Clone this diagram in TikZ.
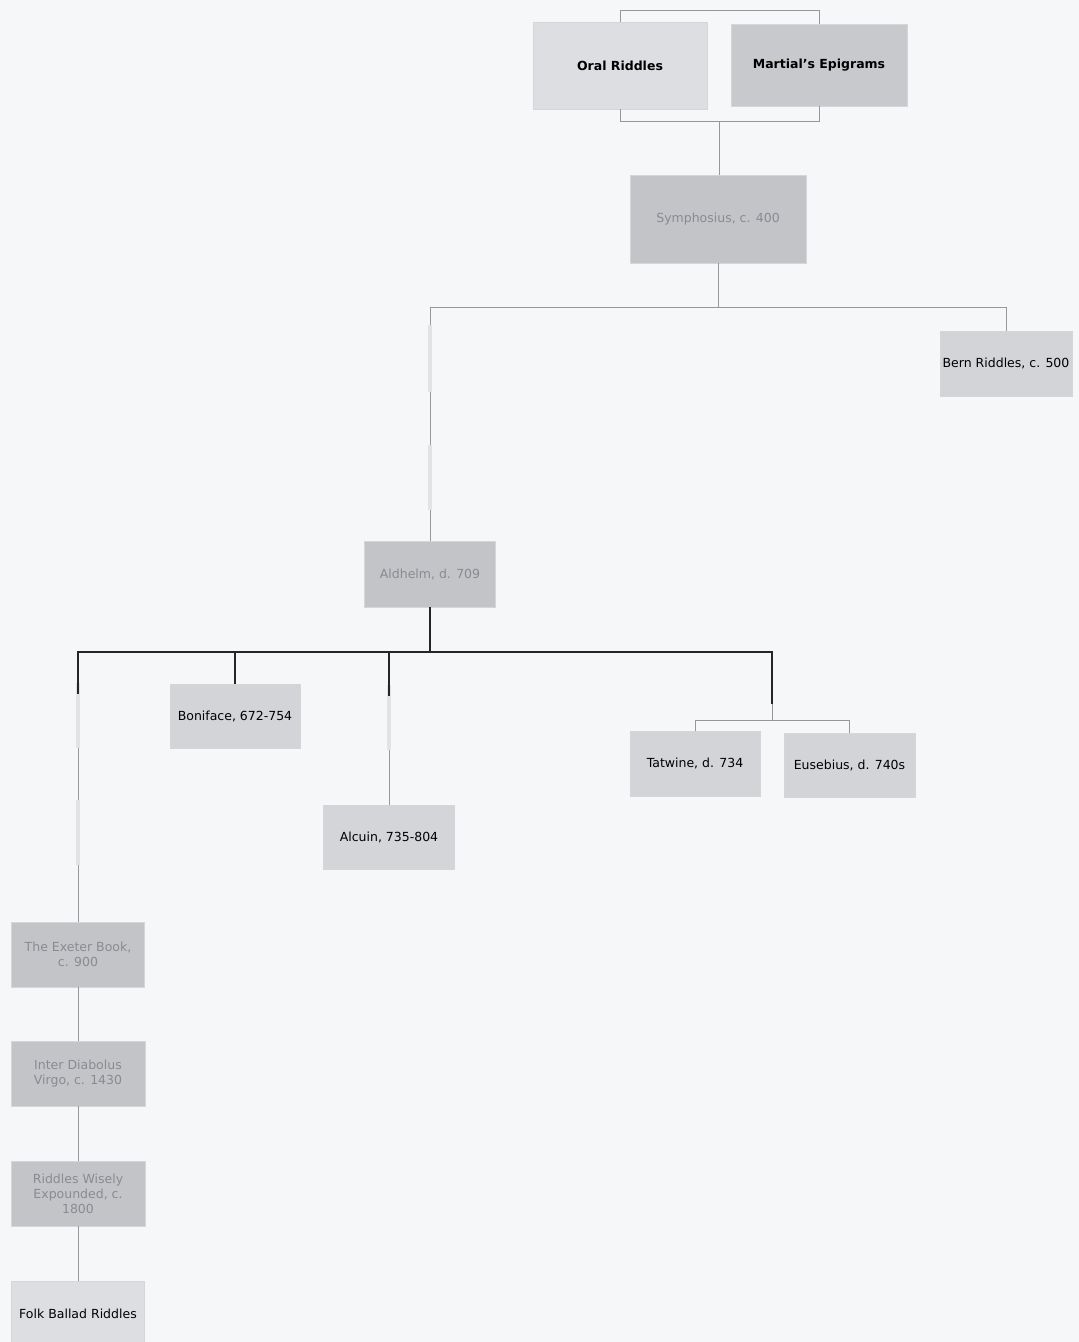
\documentclass[tikz,border=0pt]{standalone}
\usepackage{xcolor}
\usepackage{fontspec}
\setmainfont{DejaVu Sans}
\usepackage{tikz}
\usetikzlibrary{positioning,calc}
\definecolor{paper}{RGB}{246,247,249}
\definecolor{litegray}{RGB}{221,222,226}
\definecolor{midgray}{RGB}{211,212,216}
\definecolor{darkgray}{RGB}{195,196,200}
\definecolor{fadetext}{RGB}{138,139,145}
\definecolor{linegray}{RGB}{150,151,154}

\begin{document}
\begin{tikzpicture}[x=1pt, y=-1pt,
        box/.style={rectangle, draw=black!16, line width=0.4pt,
                    inner sep=2pt, align=center,
                    font=\fontsize{12.5}{15}\selectfont},
        lite/.style={box, fill=litegray},
        mid/.style={box, fill=midgray},
        dark/.style={box, fill=darkgray, text=fadetext},
        link/.style={draw=linegray, line width=0.8pt},
        heavy/.style={draw=black!85, line width=1.8pt},
        ghost/.style={draw=black!11, line width=3.5pt}]

        % page
        \fill[paper] (0,0) rectangle (1079,1342);
        \useasboundingbox (0,0) rectangle (1079,1342);

        % sources
        \node[lite, minimum width=174, minimum height=87, font=\fontsize{12.5}{15}\bfseries] (oral) at (620, 65.5)
            {Oral Riddles};
        \node[box, fill=darkgray!92, minimum width=176, minimum height=82, font=\fontsize{12.5}{15}\bfseries] (mart) at (819, 65)
            {Martial's Epigrams};

        % Symphosius and Bern
        \node[dark, minimum width=176, minimum height=88] (sym) at (718, 219)
            {Symphosius, c. 400};
        \node[mid, minimum width=132, minimum height=65] (bern) at (1006, 363.5)
            {Bern Riddles, c. 500};

        % Aldhelm and followers
        \node[dark, minimum width=131, minimum height=66] (ald) at (430, 574)
            {Aldhelm, d. 709};
        \node[mid, minimum width=130, minimum height=64] (bon) at (235, 716)
            {Boniface, 672-754};
        \node[lite, fill=midgray!85!litegray, minimum width=131, minimum height=64] (alc) at (389, 837)
            {Alcuin, 735-804};
        \node[mid, minimum width=130, minimum height=65] (tat) at (695, 763.5)
            {Tatwine, d. 734};
        \node[mid, minimum width=131, minimum height=64] (eus) at (849.5, 765)
            {Eusebius, d. 740s};

        % Old English line
        \node[dark, minimum width=133, minimum height=65] (ext) at (78, 954.5)
            {The Exeter Book,\\c. 900};
        \node[dark, minimum width=134, minimum height=65] (inter) at (78, 1073.5)
            {Inter Diabolus\\Virgo, c. 1430};
        \node[dark, minimum width=134, minimum height=65] (rwe) at (78, 1193.5)
            {Riddles Wisely\\Expounded, c.\\1800};
        \node[lite, minimum width=133, minimum height=65] (folk) at (78, 1313.5)
            {Folk Ballad Riddles};

        % brackets round the sources
        \draw[link] (oral.north) -- ++(0,-11) -| (mart.north);
        \draw[link] (oral.south) -- ++(0,12) coordinate (orb) -| (mart.south);
        \coordinate (topj) at ($(orb)!0.5!(orb -| mart.south)$);
        \draw[link] (topj) -- (topj |- sym.north);

        % Symphosius -> Aldhelm, Bern
        \draw[link] (sym.south) -- ++(0,44) coordinate (symj);
        \draw[link] (symj) -| (bern.north);
        \draw[link] (symj) -| (ald.north);
        \draw[ghost] ([yshift=-18]symj -| ald.north) -- ++(0,67);
        \draw[ghost] ([yshift=-138]symj -| ald.north) -- ++(0,65);

        % Aldhelm -> followers (thin lines first)
        \coordinate (tej) at ($($(tat.north)!0.5!(eus.north)$)+(0,-11)$);
        \draw[link] (ald.south) -- ++(0,45) coordinate (aldj);
        \draw[link] (aldj -| ext.north) -- (ext.north);
        \draw[link] (aldj -| alc.north) -- (alc.north);
        \draw[link] (aldj -| tej) -- (tej);
        \draw[link] (tej) -| (tat.north);
        \draw[link] (tej) -| (eus.north);

        % faint overlays
        \draw[ghost] ([yshift=-31]aldj -| ext.north) -- ++(0,65);
        \draw[ghost] ([yshift=-148]aldj -| ext.north) -- ++(0,65);
        \draw[ghost] ([yshift=-33]aldj -| alc.north) -- ++(0,65);

        % heavy bar
        \draw[heavy] (ald.south) -- (aldj);
        \draw[heavy, line cap=rect] (aldj -| ext.north) -- (aldj -| tej);
        \draw[heavy] (aldj -| ext.north) -- ++(0,42);
        \draw[heavy] (aldj -| bon.north) -- (bon.north);
        \draw[heavy] (aldj -| alc.north) -- ++(0,44);
        \draw[heavy] (aldj -| tej) -- ++(0,52);

        % later chain
        \draw[link] (ext.south) -- (inter.north);
        \draw[link] (inter.south) -- (rwe.north);
        \draw[link] (rwe.south) -- (folk.north);

    \end{tikzpicture}
\end{document}
